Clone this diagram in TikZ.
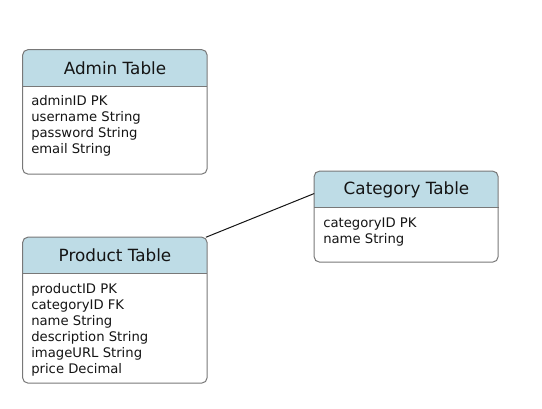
\documentclass[tikz,border=0pt]{standalone}
\usepackage{fontspec}
\setmainfont{DejaVu Sans}
\usetikzlibrary{positioning,backgrounds}

\definecolor{headblue}{RGB}{190,220,230}
\definecolor{framegray}{RGB}{120,120,120}
\definecolor{inkblack}{RGB}{20,20,20}

\tikzset{
    tablehead/.style={minimum width=138pt, minimum height=27pt, inner sep=0pt,
        text=inkblack, font=\fontsize{12.6}{14}\selectfont},
    fieldlist/.style={anchor=north west, align=left, inner sep=0pt,
        text=inkblack, font=\fontsize{9.9}{12}\selectfont},
    tableframe/.style={draw=framegray, line width=0.75pt, rounded corners=3.75pt},
}

\begin{document}
\begin{tikzpicture}[x=0.75pt, y=-0.75pt]
                \useasboundingbox (0,0) rectangle (542,408);
                % headers
                \node[tablehead] (adminhead) at (115,68) {\raisebox{-1.5pt}{Admin Table}};
                \node[tablehead] (prodhead) at (115,255.5) {\raisebox{-1.5pt}{Product Table}};
                \node[tablehead] (cathead) at (406.5,189.5) {\raisebox{-1.5pt}{Category Table}};
                % fields
                \node[fieldlist] (adminfields) at (31,95) {adminID PK\\username String\\password String\\email String};
                \node[fieldlist] (prodfields) at (31,283) {productID PK\\categoryID FK\\name String\\description String\\imageURL String\\price Decimal};
                \node[fieldlist] (catfields) at (323,218) {categoryID PK\\name String};
                % box bottoms
                \coordinate (adminbottom) at (207,174);
                \coordinate (prodbottom) at (207,383);
                \coordinate (catbottom) at (498,262);
                % header fills
                \begin{scope}[on background layer]
                    \begin{scope}
                        \clip[rounded corners=3.75pt] (adminhead.north west) rectangle (adminbottom);
                        \fill[headblue] (adminhead.north west) rectangle (adminhead.south east);
                    \end{scope}
                    \begin{scope}
                        \clip[rounded corners=3.75pt] (prodhead.north west) rectangle (prodbottom);
                        \fill[headblue] (prodhead.north west) rectangle (prodhead.south east);
                    \end{scope}
                    \begin{scope}
                        \clip[rounded corners=3.75pt] (cathead.north west) rectangle (catbottom);
                        \fill[headblue] (cathead.north west) rectangle (cathead.south east);
                    \end{scope}
                \end{scope}
                % frames
                \draw[tableframe] (adminhead.north west) rectangle (adminbottom);
                \draw[framegray, line width=0.75pt] (adminhead.south west) -- (adminhead.south east);
                \draw[tableframe] (prodhead.north west) rectangle (prodbottom);
                \draw[framegray, line width=0.75pt] (prodhead.south west) -- (prodhead.south east);
                \draw[tableframe] (cathead.north west) rectangle (catbottom);
                \draw[framegray, line width=0.75pt] (cathead.south west) -- (cathead.south east);
                % relation
                \draw[inkblack, line width=0.75pt] ([xshift=-1pt]prodhead.north east) -- ([yshift=-3pt]cathead.west);
\end{tikzpicture}
\end{document}
